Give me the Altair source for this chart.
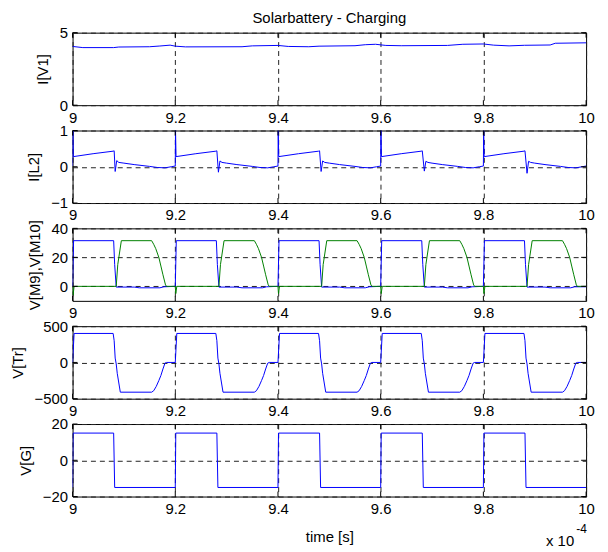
import altair as alt
import pandas as pd

# ---------------- data (time in units of 1e-4 s) ----------------
IV1_T = [9.00, 9.02, 9.08, 9.09, 9.15, 9.17, 9.19, 9.20, 9.22, 9.33, 9.35, 9.40, 9.42,
         9.46, 9.48, 9.55, 9.57, 9.59, 9.61, 9.64, 9.73, 9.76, 9.80, 9.82, 9.85, 9.88,
         9.93, 9.94, 10.00]
IV1_V = [4.05, 3.97, 3.97, 4.01, 4.03, 4.08, 4.14, 4.07, 4.02, 4.03, 4.09, 4.12, 4.05,
         4.03, 4.07, 4.10, 4.17, 4.20, 4.12, 4.10, 4.12, 4.20, 4.22, 4.14, 4.09, 4.13,
         4.15, 4.27, 4.30]

IL2_T = [9.000, 9.0005, 9.0015, 9.040, 9.079, 9.081, 9.083, 9.086, 9.090, 9.100, 9.120, 9.150, 9.165, 9.180, 9.192,
         9.200, 9.2005, 9.2015, 9.240, 9.279, 9.281, 9.284, 9.287, 9.291, 9.300, 9.320, 9.350, 9.365, 9.380, 9.392,
         9.400, 9.4005, 9.4015, 9.440, 9.479, 9.481, 9.484, 9.487, 9.491, 9.500, 9.520, 9.550, 9.565, 9.580, 9.592,
         9.600, 9.6005, 9.6015, 9.640, 9.679, 9.681, 9.685, 9.688, 9.692, 9.700, 9.720, 9.750, 9.765, 9.780, 9.792,
         9.800, 9.8005, 9.8015, 9.840, 9.879, 9.881, 9.885, 9.888, 9.892, 9.900, 9.920, 9.950, 9.965, 9.980, 9.992,
         10.000]
IL2_V = [0.02, 1.00, 0.28, 0.36, 0.43, 0.44, -0.13, 0.17, 0.12, 0.10, 0.06, 0.01, -0.02, -0.03, 0.00,
         0.02, 1.00, 0.28, 0.36, 0.43, 0.44, -0.15, 0.16, 0.12, 0.10, 0.06, 0.01, -0.02, -0.03, 0.00,
         0.02, 1.00, 0.28, 0.36, 0.43, 0.44, -0.13, 0.16, 0.12, 0.10, 0.06, 0.01, -0.02, -0.03, 0.00,
         0.02, 1.00, 0.28, 0.36, 0.43, 0.44, -0.12, 0.15, 0.12, 0.10, 0.06, 0.01, -0.02, -0.03, 0.00,
         0.02, 1.00, 0.28, 0.36, 0.43, 0.44, -0.18, 0.15, 0.12, 0.10, 0.06, 0.01, -0.02, -0.03, 0.00,
         0.02]

VM9_T = [9.000, 9.002, 9.080, 9.082, 9.085, 9.120, 9.130, 9.170, 9.178,
         9.200, 9.202, 9.280, 9.282, 9.285, 9.320, 9.330, 9.370, 9.378,
         9.400, 9.402, 9.480, 9.482, 9.485, 9.520, 9.530, 9.570, 9.578,
         9.600, 9.602, 9.680, 9.682, 9.685, 9.720, 9.730, 9.770, 9.778,
         9.800, 9.802, 9.880, 9.882, 9.885, 9.920, 9.930, 9.970, 9.978,
         10.000]
VM9_V = [0.0, 31.5, 31.5, 15.0, -0.5, -0.5, -1.0, -1.0, -0.3,
         0.0, 31.5, 31.5, 15.0, -0.5, -0.5, -1.0, -1.0, -0.3,
         0.0, 31.5, 31.5, 15.0, -0.5, -0.5, -1.0, -1.0, -0.3,
         0.0, 31.5, 31.5, 15.0, -0.5, -0.5, -1.0, -1.0, -0.3,
         0.0, 31.5, 31.5, 15.0, -0.5, -0.5, -1.0, -1.0, -0.3,
         -0.3]

VM10_T = [9.000, 9.001, 9.003, 9.085, 9.088, 9.095, 9.154, 9.158, 9.162, 9.168, 9.172, 9.176, 9.181, 9.183,
          9.200, 9.201, 9.203, 9.285, 9.288, 9.295, 9.354, 9.358, 9.362, 9.368, 9.372, 9.376, 9.381, 9.383,
          9.400, 9.401, 9.403, 9.485, 9.488, 9.495, 9.554, 9.558, 9.562, 9.568, 9.572, 9.576, 9.581, 9.583,
          9.600, 9.601, 9.603, 9.685, 9.688, 9.695, 9.754, 9.758, 9.762, 9.768, 9.772, 9.776, 9.781, 9.783,
          9.800, 9.801, 9.803, 9.885, 9.888, 9.895, 9.954, 9.958, 9.962, 9.968, 9.972, 9.976, 9.981, 9.983,
          10.000]
VM10_V = [0, -6, 0, 0, 15, 31.5, 31.5, 29, 26, 20, 14, 8, 1, 0,
          0, -5, 0, 0, 15, 31.5, 31.5, 29, 26, 20, 14, 8, 1, 0,
          0, -5, 0, 0, 15, 31.5, 31.5, 29, 26, 20, 14, 8, 1, 0,
          0, -5, 0, 0, 15, 31.5, 31.5, 29, 26, 20, 14, 8, 1, 0,
          0, -5, 0, 0, 15, 31.5, 31.5, 29, 26, 20, 14, 8, 1, 0,
          0]

VTR_T = [9.000, 9.003, 9.079, 9.081, 9.083, 9.085, 9.087, 9.093, 9.154, 9.158, 9.163, 9.168, 9.172, 9.176, 9.180, 9.183,
         9.200, 9.203, 9.279, 9.281, 9.283, 9.285, 9.287, 9.293, 9.354, 9.358, 9.363, 9.368, 9.372, 9.376, 9.380, 9.383,
         9.400, 9.403, 9.479, 9.481, 9.483, 9.485, 9.487, 9.493, 9.554, 9.558, 9.563, 9.568, 9.572, 9.576, 9.580, 9.583,
         9.600, 9.603, 9.679, 9.681, 9.683, 9.685, 9.687, 9.693, 9.754, 9.758, 9.763, 9.768, 9.772, 9.776, 9.780, 9.783,
         9.800, 9.803, 9.879, 9.881, 9.883, 9.885, 9.887, 9.893, 9.954, 9.958, 9.963, 9.968, 9.972, 9.976, 9.980, 9.983,
         10.000]
VTR_V = [0, 400, 400, 300, 60, -20, -150, -410, -410, -390, -330, -250, -180, -90, -10, 0,
         0, 400, 400, 300, 60, -20, -150, -410, -410, -390, -330, -250, -180, -90, -10, 0,
         0, 400, 400, 300, 60, -20, -150, -410, -410, -390, -330, -250, -180, -90, -10, 0,
         0, 400, 400, 300, 60, -20, -150, -410, -410, -390, -330, -250, -180, -90, -10, 0,
         0, 400, 400, 300, 60, -20, -150, -410, -410, -390, -330, -250, -180, -90, -10, 0,
         0]

VG_T = [9.000, 9.001, 9.080, 9.082,
        9.200, 9.201, 9.281, 9.283,
        9.400, 9.401, 9.481, 9.483,
        9.600, 9.601, 9.681, 9.683,
        9.800, 9.801, 9.881, 9.883,
        10.000]
VG_V = [-15, 15, 15, -15,
        -15, 15, 15, -15,
        -15, 15, 15, -15,
        -15, 15, 15, -15,
        -15, 15, 15, -15,
        -15]

X_TICKS = [9, 9.2, 9.4, 9.6, 9.8, 10]
TITLE = "Solarbattery - Charging"

# ---------------- styling ----------------
W, H = 517, 73
FONT = "Liberation Sans"
FS = 15
BLUE = "#0000ff"
GREEN = "#008000"


def make_axis(values, title, label_pad, title_pad):
    kw = dict(values=values, format="~f", labelFlush=False, ticks=False, domain=False,
              grid=True, gridDash=[5, 4], gridColor="#222", gridWidth=1,
              labelPadding=label_pad, titlePadding=title_pad)
    if title:
        kw["title"] = title
    return alt.Axis(**kw)


def panel(series, ydom, yticks, ytitle, xtitle=None, extra=None):
    xs = alt.Scale(domain=[9, 10], nice=False, zero=False)
    ys = alt.Scale(domain=ydom, nice=False, zero=False)
    xaxis = make_axis(X_TICKS, xtitle, 5, 13)
    yaxis = make_axis(yticks, ytitle, 5, 9)
    xtit = xtitle if xtitle else ""
    layers = []
    for t, v, color in series:
        df = pd.DataFrame({"t": t, "v": v})
        layers.append(
            alt.Chart(df).mark_line(color=color, strokeWidth=1, clip=True).encode(
                x=alt.X("t:Q", scale=xs, axis=xaxis, title=xtit),
                y=alt.Y("v:Q", scale=ys, axis=yaxis, title=ytitle),
            )
        )
    xt_df = pd.DataFrame({"t": X_TICKS})
    yt_df = pd.DataFrame({"v": yticks})
    for a, b in [(0, 5), (H - 5, H)]:
        layers.append(
            alt.Chart(xt_df).mark_rule(color="black", strokeWidth=1).encode(
                x=alt.X("t:Q", scale=xs, axis=xaxis, title=xtit), y=alt.value(a), y2=alt.value(b)
            )
        )
    for a, b in [(0, 5), (W - 5, W)]:
        layers.append(
            alt.Chart(yt_df).mark_rule(color="black", strokeWidth=1).encode(
                y=alt.Y("v:Q", scale=ys, axis=yaxis, title=ytitle), x=alt.value(a), x2=alt.value(b)
            )
        )
    if extra:
        layers.extend(extra)
    return alt.layer(*layers).properties(width=W, height=H)


title_df = pd.DataFrame({"s": [TITLE]})
title_layer = [
    alt.Chart(title_df).mark_text(align="center", baseline="middle", fontSize=FS, font=FONT,
                                  color="black").encode(x=alt.value(W / 2), y=alt.value(-15), text="s:N")
]

exp_df = pd.DataFrame({"s": ["x 10"], "e": ["-4"]})
exp_layers = [
    alt.Chart(exp_df).mark_text(align="right", baseline="alphabetic", fontSize=FS, font=FONT,
                                color="black").encode(x=alt.value(505), y=alt.value(123), text="s:N"),
    alt.Chart(exp_df).mark_text(align="left", baseline="alphabetic", fontSize=12, font=FONT,
                                color="black").encode(x=alt.value(507), y=alt.value(110), text="e:N"),
]

p1 = panel([(IV1_T, IV1_V, BLUE)], [0, 5], [0, 5], "I[V1]", extra=title_layer)
p2 = panel([(IL2_T, IL2_V, BLUE)], [-1, 1], [-1, 0, 1], "I[L2]")
p3 = panel([(VM9_T, VM9_V, BLUE), (VM10_T, VM10_V, GREEN)], [-10, 40], [0, 20, 40], "V[M9],V[M10]")
p4 = panel([(VTR_T, VTR_V, BLUE)], [-500, 500], [-500, 0, 500], "V[Tr]")
p5 = panel([(VG_T, VG_V, BLUE)], [-20, 20], [-20, 0, 20], "V[G]", xtitle="time [s]", extra=exp_layers)

chart = (
    alt.vconcat(p1, p2, p3, p4, p5, spacing=25.5, bounds="flush")
    .resolve_scale(x="independent", y="independent")
    .properties(padding={"left": 1, "top": 0, "right": 5, "bottom": 0}, background="white")
    .configure_view(stroke="black", strokeWidth=1)
    .configure_axis(labelFont=FONT, titleFont=FONT, labelFontSize=FS, titleFontSize=FS,
                    labelColor="black", titleColor="black", titleFontWeight="normal")
)

chart.save("out.html", embed_options={"renderer": "svg", "actions": False})
